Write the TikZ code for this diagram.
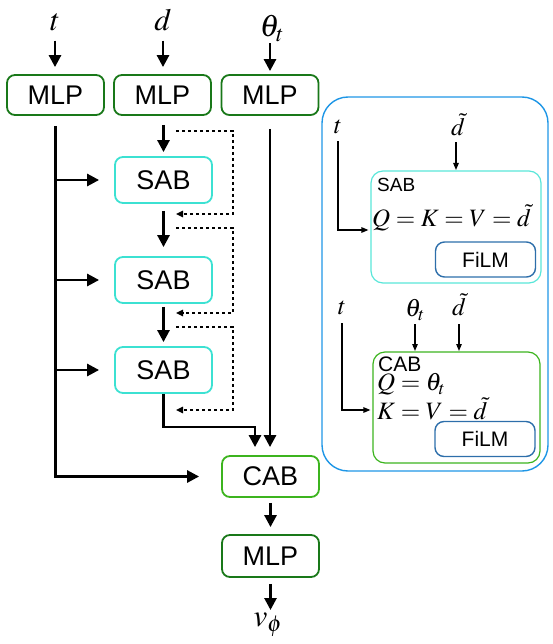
\documentclass[tikz,border=0pt]{standalone}
\usepackage{mathptmx}
\usepackage[no-math]{fontspec}
\setmainfont{Liberation Sans}
\usetikzlibrary{arrows.meta}

\definecolor{mlpgreen}{RGB}{25,120,25}
\definecolor{sabcyan}{RGB}{60,225,210}
\definecolor{cabgreen}{RGB}{60,180,30}
\definecolor{panelblue}{RGB}{30,150,230}
\definecolor{filmblue}{RGB}{45,110,170}

\tikzset{
  box/.style={draw, rounded corners=8pt, line width=1.8pt, minimum width=97pt,
    inner sep=0pt, font=\fontsize{27}{30}\selectfont},
  mlp/.style={box, draw=mlpgreen, minimum height=40pt},
  sab/.style={box, draw=sabcyan, minimum height=46pt},
  cab/.style={box, draw=cabgreen, minimum height=41pt},
  flow/.style={line width=2.7pt, -{Triangle[length=12pt,width=12pt]}},
  feed/.style={line width=1.3pt, dash pattern=on 3.3pt off 2.7pt,
    -{Triangle[length=7pt,width=6.5pt]}},
  thinarrow/.style={line width=1.2pt, -{Triangle[length=7pt,width=5.5pt]}},
  lab/.style={font=\fontsize{31}{33}\selectfont, inner sep=0pt},
  slab/.style={font=\fontsize{25}{27}\selectfont, inner sep=0pt},
  detail/.style={draw, rounded corners=12pt, line width=1.2pt, inner sep=0pt},
  film/.style={draw=filmblue, rounded corners=9pt, line width=1.4pt, inner sep=0pt,
    minimum width=100pt, minimum height=35pt, font=\fontsize{21}{23}\selectfont},
}

\begin{document}
\begin{tikzpicture}[x=1pt,y=-1pt]
\useasboundingbox (0,0) rectangle (552,644);

% ---- main pipeline ----
\node[lab, anchor=base] (tin) at (55,31) {$t$};
\node[lab, anchor=base] (din) at (163,31) {$d$};
\node[lab, anchor=base] (thin) at (272,37) {$\theta_t$};

\node[mlp] (mlp1) at (55.5,95) {MLP};
\node[mlp] (mlp2) at (162.5,95) {MLP};
\node[mlp] (mlp3) at (270,95) {MLP};

\node[sab] (sab1) at (163.5,180) {SAB};
\node[sab] (sab2) at (163.5,280) {SAB};
\node[sab] (sab3) at (163.5,370) {SAB};

\node[cab] (cab) at (270.5,476.5) {CAB};
\node[mlp, minimum height=42pt] (mlp4) at (270.5,556) {MLP};
\node[lab, anchor=north] (vout) at (268,613) {$v_\phi$};

% inputs into the embedding MLPs
\draw[flow, shorten <=9pt, shorten >=7pt] (tin.south) -- (tin.south |- mlp1.north);
\draw[flow, shorten <=9pt, shorten >=7pt] (din.south) -- (din.south |- mlp2.north);
\draw[flow, shorten <=1pt, shorten >=3pt] (thin.south -| mlp3.north) -- (mlp3.north);

% time embedding feeds every block
\draw[flow, shorten <=10pt, shorten >=22pt] (mlp1.south) |- (cab.west);
\draw[flow, shorten >=15pt] (mlp1.south |- sab1.west) -- (sab1.west);
\draw[flow, shorten >=15pt] (mlp1.south |- sab2.west) -- (sab2.west);
\draw[flow, shorten >=15pt] (mlp1.south |- sab3.west) -- (sab3.west);

% SAB stack
\draw[flow, shorten <=9pt, shorten >=4pt] (mlp2.south -| sab1.north) -- (sab1.north);
\draw[flow, shorten <=7pt, shorten >=9pt] (sab1.south) -- (sab2.north);
\draw[flow, shorten <=3pt, shorten >=4pt] (sab2.south) -- (sab3.north);

% residual connections
\draw[feed] (176,131) -| (233,214) -- (176,214);
\draw[feed] (176,228) -| (233,313) -- (176,313);
\draw[feed] (176,327) -| (233,410) -- (176,410);

% into the cross-attention block
\draw[flow, shorten >=8pt] (sab3.south) -- ++(0,33) -| ([xshift=-15.5pt]cab.north);
\draw[flow, shorten <=13pt, shorten >=8pt] (mlp3.south) -- (mlp3.south |- cab.north);
\draw[flow, shorten <=5pt, shorten >=7pt] (cab.south) -- (mlp4.north);
\draw[flow, shorten <=6pt, shorten >=3pt] (mlp4.south) -- (mlp4.south |- vout.north);

% ---- block details ----
\node[draw=panelblue, line width=1.4pt, rounded corners=26pt,
      minimum width=226pt, minimum height=374pt, inner sep=0pt] (panel) at (435,284) {};

% SAB
\node[detail, draw=sabcyan!85!white, minimum width=170pt, minimum height=112pt] (sabd) at (456,227) {};
\node[film] (film1) at (485.5,259.5) {FiLM};
\node[slab, anchor=west, font=\fontsize{19}{21}\selectfont] (sabname) at (377,185) {SAB};
\node[slab, anchor=west] (sabeq) at (372,218) {$Q=K=V=\tilde{d}$};
\node[slab] (t2) at (338,127) {$t$};
\node[slab] (dt1) at (458,125) {$\tilde{d}$};
\draw[thinarrow, shorten <=7pt, shorten >=2pt] (t2.south) |- ([yshift=-3pt]sabd.west);
\draw[thinarrow, shorten <=6pt, shorten >=1pt] (dt1.south -| 456,0) -- (456,171);

% CAB
\node[detail, draw=cabgreen, minimum width=167pt, minimum height=111pt] (cabd) at (456.5,407.5) {};
\node[film] (film2) at (485,439) {FiLM};
\node[slab, anchor=west, font=\fontsize{21}{23}\selectfont] (cabname) at (378,364) {CAB};
\node[slab, anchor=west] (cabq) at (377,384) {$Q=\theta_t$};
\node[slab, anchor=west] (cabkv) at (377,409) {$K=V=\tilde{d}$};
\node[slab] (t3) at (342,308) {$t$};
\node[slab] (th2) at (415,310) {$\theta_t$};
\node[slab] (dt2) at (459,305) {$\tilde{d}$};
\draw[thinarrow, shorten <=8pt, shorten >=2pt] (t3.south) |- ([yshift=-2.5pt]cabd.west);
\draw[thinarrow, shorten >=1pt] (415,324) -- (415,352);
\draw[thinarrow, shorten >=1pt] (459,324) -- (459,352);
\end{tikzpicture}
\end{document}
